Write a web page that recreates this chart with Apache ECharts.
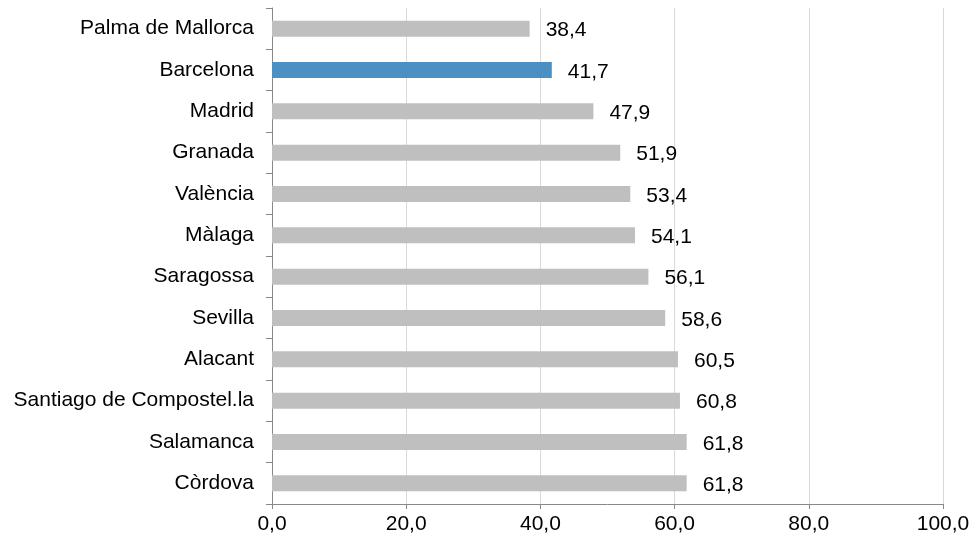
<!DOCTYPE html>
<html>
<head>
<meta charset="utf-8">
<script src="https://cdn.jsdelivr.net/npm/echarts@6/dist/echarts.min.js"></script>
<style>html,body{margin:0;padding:0;background:#fff;}#c{width:976px;height:545px;}</style>
</head>
<body>
<div id="c"></div>
<script>
const categories = ["Palma de Mallorca","Barcelona","Madrid","Granada","València","Màlaga","Saragossa","Sevilla","Alacant","Santiago de Compostel.la","Salamanca","Còrdova"];
const values = [38.4,41.7,47.9,51.9,53.4,54.1,56.1,58.6,60.5,60.8,61.8,61.8];
const highlight = "Barcelona";
const xTicks = [0,20,40,60,80,100];

const fmt = v => v.toFixed(1).replace('.', ',');
const chart = echarts.init(document.getElementById('c'), null, {renderer:'canvas'});
chart.setOption({
  animation:false,
  grid:{left:272,right:33,top:8,bottom:41,containLabel:false},
  xAxis:{
    type:'value', min:xTicks[0], max:xTicks[xTicks.length-1], interval:20,
    axisLine:{show:true,lineStyle:{color:'#888888',width:1}},
    axisTick:{show:true,length:5,lineStyle:{color:'#888888'}},
    axisLabel:{formatter:fmt,color:'#000',fontFamily:'Liberation Sans, Arial',fontSize:21,margin:10},
    splitLine:{show:true,lineStyle:{color:'#d9d9d9',width:1}}
  },
  yAxis:{
    type:'category', data:categories, inverse:true,
    axisLine:{show:true,lineStyle:{color:'#888888',width:1}},
    axisTick:{show:true,length:6,lineStyle:{color:'#888888'}},
    axisLabel:{color:'#000',fontFamily:'Liberation Sans, Arial',fontSize:21,margin:18},
    splitLine:{show:false}
  },
  series:[{
    type:'bar',
    data:values.map((v,i)=>({value:v,itemStyle:{color:categories[i]===highlight?'#4a90c2':'#bfbfbf'}})),
    barWidth:16,
    label:{show:true,position:'right',distance:16,offset:[0,2],formatter:p=>fmt(p.value),color:'#000',fontFamily:'Liberation Sans, Arial',fontSize:21}
  }]
});
</script>
</body>
</html>
